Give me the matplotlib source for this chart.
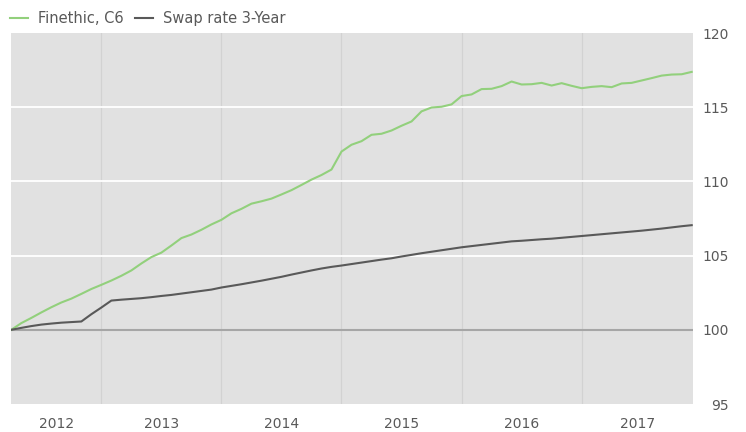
import matplotlib.pyplot as plt
import numpy as np

# monthly index values, April 2012 .. December 2017
finethic = [100.0, 100.45, 100.8, 101.17, 101.52, 101.84, 102.1, 102.42, 102.75, 103.03,
            103.32, 103.64, 104.0, 104.47, 104.9, 105.2, 105.68, 106.18, 106.42, 106.74,
            107.1, 107.41, 107.85, 108.15, 108.5, 108.66, 108.84, 109.12, 109.41, 109.76,
            110.12, 110.43, 110.8, 112.01, 112.47, 112.71, 113.14, 113.21, 113.43, 113.75,
            114.04, 114.72, 114.98, 115.03, 115.19, 115.75, 115.86, 116.22, 116.24, 116.42,
            116.73, 116.53, 116.55, 116.64, 116.46, 116.62, 116.44, 116.28, 116.37, 116.42,
            116.35, 116.6, 116.64, 116.8, 116.96, 117.13, 117.2, 117.22, 117.38]

swap3y = [100.0, 100.13, 100.25, 100.35, 100.42, 100.48, 100.52, 100.56, 101.05, 101.5,
          101.97, 102.03, 102.08, 102.13, 102.2, 102.28, 102.35, 102.44, 102.53, 102.62,
          102.71, 102.85, 102.96, 103.07, 103.19, 103.31, 103.44, 103.57, 103.72, 103.86,
          104.0, 104.13, 104.24, 104.33, 104.43, 104.53, 104.63, 104.73, 104.82, 104.94,
          105.05, 105.16, 105.26, 105.36, 105.46, 105.56, 105.64, 105.72, 105.8, 105.88,
          105.96, 106.0, 106.05, 106.1, 106.14, 106.2, 106.26, 106.32, 106.38, 106.44,
          106.5, 106.56, 106.62, 106.68, 106.75, 106.82, 106.9, 106.98, 107.05]

years = ['2012', '2013', '2014', '2015', '2016', '2017']
year_starts = [12, 24, 36, 48, 60]  # months since Jan 2012

# x = months since January 2012 (first value is April 2012)
meses = 3 + np.arange(len(finethic))

verde = '#92d07c'
gris = '#595959'
texto = '#595959'

fig = plt.figure(figsize=(7.46, 4.32), dpi=100)
ax = fig.add_axes([11/746, 28/432, 682/746, 371/432])
ax.set_facecolor('#e1e1e1')

x0, x1 = 2.97, 71.13
ax.set_xlim(x0, x1)
ax.set_ylim(95, 120)

# grid lines
for m in year_starts:
    ax.axvline(m, color='#d2d2d2', linewidth=0.9, zorder=1)
for v in [105, 110, 115]:
    ax.axhline(v, color='white', linewidth=1.3, zorder=1)
ax.axhline(100, color='#a6a6a6', linewidth=1.5, zorder=2)

ax.plot(meses, finethic, color=verde, linewidth=1.5, label='Finethic, C6', zorder=3)
ax.plot(meses, swap3y, color=gris, linewidth=1.5, label='Swap rate 3-Year', zorder=3)

# year labels centred in each visible year span
bordes = [x0] + year_starts + [x1]
centros = [(bordes[i] + bordes[i + 1]) / 2 for i in range(len(years))]
ax.set_xticks(centros)
ax.set_xticklabels(years)
ax.tick_params(axis='x', length=0, pad=9, labelsize=10, labelcolor=texto)

ax.yaxis.tick_right()
ax.set_yticks([95, 100, 105, 110, 115, 120])
ax.tick_params(axis='y', length=0, pad=26, labelsize=10, labelcolor=texto)
for lbl in ax.get_yticklabels():
    lbl.set_horizontalalignment('right')

for s in ax.spines.values():
    s.set_visible(False)

leg = fig.legend(loc='upper left', bbox_to_anchor=(10/746, 1 - 11/432), ncol=2, frameon=False,
                 fontsize=10.5, handlelength=1.25, handletextpad=0.7, columnspacing=0.75,
                 borderpad=0, borderaxespad=0)
for t in leg.get_texts():
    t.set_color(texto)

fig.savefig('out.png', dpi=100)
